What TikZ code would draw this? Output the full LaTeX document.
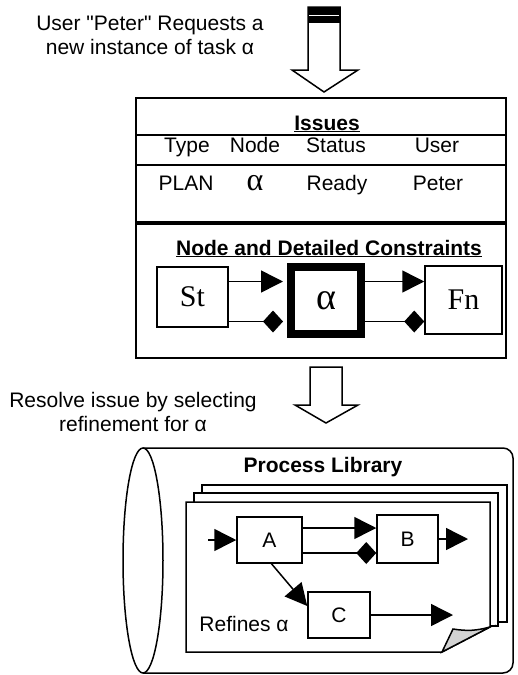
\documentclass[tikz,border=0pt]{standalone}
\usepackage{fontspec}
\setmainfont{Liberation Sans}
\newfontfamily\tnr{Liberation Serif}
\usetikzlibrary{arrows.meta}

\tikzset{
	txt/.style={font=\fontsize{21}{24}\selectfont, inner sep=0pt, anchor=base},
	hdr/.style={txt, font=\fontsize{21}{24}\selectfont\bfseries},
	greek/.style={font=\tnr\fontsize{30}{30}\selectfont},
	box/.style={draw, line width=1.5pt, fill=white},
	flow/.style={line width=1.5pt, -{Triangle[length=22pt,width=22pt]}},
	cons/.style={line width=1.5pt, -{Diamond[length=20pt,width=22pt]}},
	blockarrow/.style={draw, line width=1.5pt, fill=white},
}

\begin{document}
\begin{tikzpicture}[x=1pt, y=-1pt]
	\useasboundingbox (0,0) rectangle (517,675);
	% request from the user
	\node[txt, align=center, anchor=center] (req) at (150,35) {User \textquotedbl Peter\textquotedbl{} Requests a\\new instance of task α};
	\path[blockarrow] (308,7) -- (340,7) -- (340,70) -- (358,70) -- (324,92) -- (292,70) -- (308,70) -- cycle;
	\fill (308,7) rectangle (340,23);
	\draw[white, line width=1.2pt] (309,15.5) -- (339,15.5);

	% issues table
	\node[draw, line width=2pt, minimum width=370pt, minimum height=260pt] (iss) at (321,228) {};
	\node[hdr] (isst) at (327,130) {\underline{Issues}};
	\draw[line width=1.5pt] (iss.west |- 0,135) -- (iss.east |- 0,135);
	\draw[line width=1.5pt] (iss.west |- 0,165) -- (iss.east |- 0,165);
	\draw[line width=3.5pt] (iss.west |- 0,223) -- (iss.east |- 0,223);
	\node[txt] (type) at (187,152) {Type};
	\node[txt] (nd) at (255,152) {Node};
	\node[txt] (stat) at (336,152) {Status};
	\node[txt] (user) at (437,152) {User};
	\node[txt] (plan) at (186,190) {PLAN};
	\node[txt, font=\tnr\fontsize{32}{32}\selectfont] (na) at (255,190) {α};
	\node[txt] (ready) at (337,190) {Ready};
	\node[txt] (peter) at (438,190) {Peter};

	% node and constraints
	\node[hdr] (ndc) at (329,255) {\underline{Node and Detailed Constraints}};
	\node[box, greek, minimum width=71pt, minimum height=60pt] (st) at (192.5,297) {St};
	\node[draw, greek, font=\tnr\fontsize{38}{38}\selectfont, line width=8pt, minimum width=70pt, minimum height=67pt] (al) at (326,300.5) {α};
	\node[box, greek, minimum width=77pt, minimum height=68pt] (fn) at (463.5,300) {Fn};
	\draw[flow, shorten >=4pt] ([yshift=19pt]al.west -| st.east) -- ([yshift=19pt]al.west);
	\draw[cons, shorten >=4pt] ([yshift=-21pt]al.west -| st.east) -- ([yshift=-21pt]al.west);
	\draw[flow] ([yshift=19pt]al.east) -- ([yshift=19pt]al.east -| fn.west);
	\draw[cons] ([yshift=-21pt]al.east) -- ([yshift=-21pt]al.east -| fn.west);

	% resolving the issue
	\node[txt, align=center, anchor=center] (res) at (133,412) {Resolve issue by selecting\\refinement for α};
	\path[blockarrow] (310,367) -- (342,367) -- (342,405) -- (358,405) -- (326,423) -- (295,405) -- (310,405) -- cycle;

	% process library
	\draw[line width=1.5pt, rounded corners=10pt] (143,448) -- (513,448) -- (513,673) -- (143,673);
	\draw[line width=1.5pt] (143,560.5) ellipse [x radius=20, y radius=112.5];
	\node[hdr] (lib) at (323,472) {Process Library};
	\draw[box] (202,485) rectangle (507,622);
	\draw[box] (194,493) rectangle (498,626);
	\draw[box] (186,502) -- (490,502) -- (490,627) -- (442,652) -- (186,652) -- cycle;
	\draw[line width=1.5pt, fill=gray!35] (442,652) -- (453,629) to[bend right=12] (490,627) -- cycle;

	\node[box, txt, anchor=center, minimum width=65pt, minimum height=46pt] (a) at (269.5,540) {A};
	\node[box, txt, anchor=center, minimum width=61pt, minimum height=48pt] (b) at (407.5,539) {B};
	\node[box, txt, anchor=center, minimum width=62pt, minimum height=46pt] (c) at (339,615) {C};
	\coordinate (ain) at (208,540);
	\coordinate (bout) at (468,539);
	\coordinate (cout) at (453,615);
	\draw[flow] (ain) -- (a.west);
	\draw[flow] ([yshift=12pt]a.east) -- ([yshift=12pt]a.east -| b.west);
	\draw[cons] ([yshift=-13pt]a.east) -- ([yshift=-13pt]a.east -| b.west);
	\draw[flow] (b.east) -- (bout);
	\draw[flow] ([xshift=2pt]a.south) -- ([yshift=9pt]c.west);
	\draw[flow] (c.east) -- (cout);
	\node[txt] (ref) at (244,631) {Refines α};
\end{tikzpicture}
\end{document}
